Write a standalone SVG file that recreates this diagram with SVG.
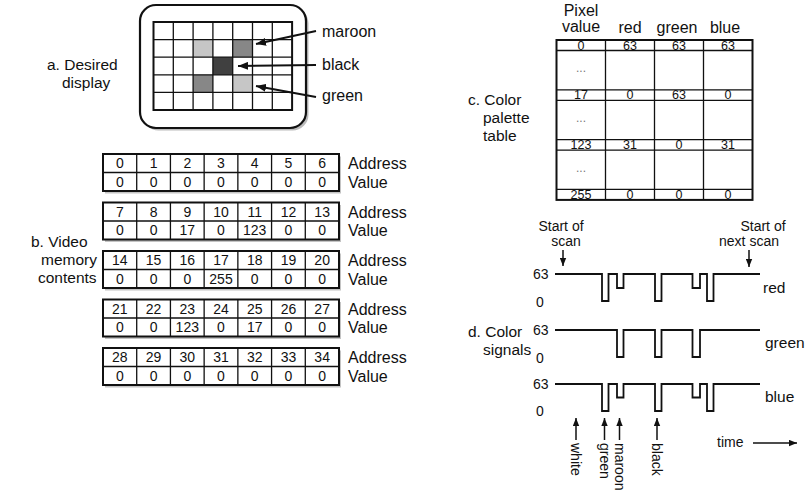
<svg xmlns="http://www.w3.org/2000/svg" xmlns:xlink="http://www.w3.org/1999/xlink" width="805" height="491" viewBox="0 0 805 491">
  <style>
    text { font-family: "Liberation Sans", Arial, sans-serif; fill: #111; }
    .lbl { font-size: 16px; }
    .side { font-size: 15.5px; }
    .sm { font-size: 14px; }
    .cell { font-size: 14px; text-anchor: middle; }
    .pcell { font-size: 12.5px; text-anchor: middle; }
    .mid { text-anchor: middle; }
    .dots { font-size: 12px; text-anchor: middle; fill: #777; }
    .box { fill: #fff; stroke: #111; stroke-width: 2; }
    .grid { fill: none; stroke: #111; stroke-width: 1.3; }
    .shadow { fill: #c4c4c4; }
    .sig { fill: none; stroke: #111; stroke-width: 1.8; }
    .arr { stroke: #111; stroke-width: 2; fill: none; }
    .arr-thin { stroke: #111; stroke-width: 1.5; fill: none; }
  </style>
  <defs>
    <marker id="ah" viewBox="0 0 10 8" refX="10" refY="4" markerWidth="10" markerHeight="8" markerUnits="userSpaceOnUse" orient="auto">
      <path d="M0,0 L10,4 L0,8 z" fill="#111"/>
    </marker>
    <marker id="ah-s" viewBox="0 0 10 8" refX="10" refY="4" markerWidth="8" markerHeight="7" markerUnits="userSpaceOnUse" orient="auto">
      <path d="M0,0 L10,4 L0,8 z" fill="#111"/>
    </marker>
    <!-- one 2x7 memory block: shadow, frame and cell lines -->
    <g id="memgrid">
      <rect class="shadow" x="105" y="2.5" width="236" height="37"/>
      <rect class="box" x="103" y="0" width="236" height="37"/>
      <path class="grid" d="M103,18.5 H339 M136.71,0 V37 M170.43,0 V37 M204.14,0 V37 M237.86,0 V37 M271.57,0 V37 M305.29,0 V37"/>
    </g>
  </defs>

  <!-- a. desired display -->
  <g id="display">
    <text class="side" x="47" y="70">a. Desired</text>
    <text class="side" x="62" y="88">display</text>
    <rect x="142.5" y="7.5" width="166" height="123" rx="16" fill="#bbb"/>
    <rect x="140" y="5" width="166" height="123" rx="16" fill="#fff" stroke="#111" stroke-width="2.2"/>
    <rect x="193.1" y="39.6" width="19.8" height="17.6" fill="#c6c6c6"/>
    <rect x="232.7" y="39.6" width="19.8" height="17.6" fill="#878787"/>
    <rect x="212.9" y="57.2" width="19.8" height="17.6" fill="#404040"/>
    <rect x="193.1" y="74.8" width="19.8" height="17.6" fill="#878787"/>
    <rect x="232.7" y="74.8" width="19.8" height="17.6" fill="#c6c6c6"/>
    <rect x="153.5" y="22" width="138.6" height="88" fill="none" stroke="#111" stroke-width="2"/>
    <path class="grid" d="M173.3,22 V110 M193.1,22 V110 M212.9,22 V110 M232.7,22 V110 M252.5,22 V110 M272.3,22 V110 M153.5,39.6 H292.1 M153.5,57.2 H292.1 M153.5,74.8 H292.1 M153.5,92.4 H292.1"/>
  </g>
  <g id="display-labels">
    <text class="lbl" x="322" y="37">maroon</text>
    <text class="lbl" x="322" y="70">black</text>
    <text class="lbl" x="322" y="101">green</text>
  </g>

  <!-- b. video memory contents -->
  <g id="memory">
    <text class="side" x="31" y="247">b. Video</text>
    <text class="side" x="41" y="265">memory</text>
    <text class="side" x="38" y="283">contents</text>
  </g>
  <g id="mem-0" transform="translate(0,154)">
    <use xlink:href="#memgrid"/>
    <g class="cell">
      <text x="119.86" y="14.3">0</text><text x="153.57" y="14.3">1</text><text x="187.29" y="14.3">2</text><text x="221" y="14.3">3</text><text x="254.71" y="14.3">4</text><text x="288.43" y="14.3">5</text><text x="322.14" y="14.3">6</text>
      <text x="119.86" y="32.8">0</text><text x="153.57" y="32.8">0</text><text x="187.29" y="32.8">0</text><text x="221" y="32.8">0</text><text x="254.71" y="32.8">0</text><text x="288.43" y="32.8">0</text><text x="322.14" y="32.8">0</text>
    </g>
    <text class="lbl" x="348" y="15">Address</text>
    <text class="lbl" x="348" y="33.5">Value</text>
  </g>
  <g id="mem-1" transform="translate(0,202.5)">
    <use xlink:href="#memgrid"/>
    <g class="cell">
      <text x="119.86" y="14.3">7</text><text x="153.57" y="14.3">8</text><text x="187.29" y="14.3">9</text><text x="221" y="14.3">10</text><text x="254.71" y="14.3">11</text><text x="288.43" y="14.3">12</text><text x="322.14" y="14.3">13</text>
      <text x="119.86" y="32.8">0</text><text x="153.57" y="32.8">0</text><text x="187.29" y="32.8">17</text><text x="221" y="32.8">0</text><text x="254.71" y="32.8">123</text><text x="288.43" y="32.8">0</text><text x="322.14" y="32.8">0</text>
    </g>
    <text class="lbl" x="348" y="15">Address</text>
    <text class="lbl" x="348" y="33.5">Value</text>
  </g>
  <g id="mem-2" transform="translate(0,251)">
    <use xlink:href="#memgrid"/>
    <g class="cell">
      <text x="119.86" y="14.3">14</text><text x="153.57" y="14.3">15</text><text x="187.29" y="14.3">16</text><text x="221" y="14.3">17</text><text x="254.71" y="14.3">18</text><text x="288.43" y="14.3">19</text><text x="322.14" y="14.3">20</text>
      <text x="119.86" y="32.8">0</text><text x="153.57" y="32.8">0</text><text x="187.29" y="32.8">0</text><text x="221" y="32.8">255</text><text x="254.71" y="32.8">0</text><text x="288.43" y="32.8">0</text><text x="322.14" y="32.8">0</text>
    </g>
    <text class="lbl" x="348" y="15">Address</text>
    <text class="lbl" x="348" y="33.5">Value</text>
  </g>
  <g id="mem-3" transform="translate(0,299.5)">
    <use xlink:href="#memgrid"/>
    <g class="cell">
      <text x="119.86" y="14.3">21</text><text x="153.57" y="14.3">22</text><text x="187.29" y="14.3">23</text><text x="221" y="14.3">24</text><text x="254.71" y="14.3">25</text><text x="288.43" y="14.3">26</text><text x="322.14" y="14.3">27</text>
      <text x="119.86" y="32.8">0</text><text x="153.57" y="32.8">0</text><text x="187.29" y="32.8">123</text><text x="221" y="32.8">0</text><text x="254.71" y="32.8">17</text><text x="288.43" y="32.8">0</text><text x="322.14" y="32.8">0</text>
    </g>
    <text class="lbl" x="348" y="15">Address</text>
    <text class="lbl" x="348" y="33.5">Value</text>
  </g>
  <g id="mem-4" transform="translate(0,348)">
    <use xlink:href="#memgrid"/>
    <g class="cell">
      <text x="119.86" y="14.3">28</text><text x="153.57" y="14.3">29</text><text x="187.29" y="14.3">30</text><text x="221" y="14.3">31</text><text x="254.71" y="14.3">32</text><text x="288.43" y="14.3">33</text><text x="322.14" y="14.3">34</text>
      <text x="119.86" y="32.8">0</text><text x="153.57" y="32.8">0</text><text x="187.29" y="32.8">0</text><text x="221" y="32.8">0</text><text x="254.71" y="32.8">0</text><text x="288.43" y="32.8">0</text><text x="322.14" y="32.8">0</text>
    </g>
    <text class="lbl" x="348" y="15">Address</text>
    <text class="lbl" x="348" y="33.5">Value</text>
  </g>

  <!-- c. colour palette table -->
  <g id="palette">
    <text class="side" x="468" y="105">c. Color</text>
    <text class="side" x="483" y="123">palette</text>
    <text class="side" x="483" y="141">table</text>
    <g class="lbl mid">
      <text x="581" y="16">Pixel</text>
      <text x="581" y="32">value</text>
      <text x="630" y="33">red</text>
      <text x="677" y="33">green</text>
      <text x="725" y="33">blue</text>
    </g>
    <rect class="box" x="556.5" y="40" width="196" height="159.9"/>
    <path class="grid" d="M605.5,40 V199.9 M654.5,40 V199.9 M703.5,40 V199.9 M556.5,50.5 H752.5 M556.5,89.8 H752.5 M556.5,100.3 H752.5 M556.5,139.6 H752.5 M556.5,150.1 H752.5 M556.5,189.4 H752.5"/>
    <g class="pcell">
      <text x="581" y="49.6">0</text><text x="630" y="49.6">63</text><text x="679" y="49.6">63</text><text x="728" y="49.6">63</text>
      <text x="581" y="99.4">17</text><text x="630" y="99.4">0</text><text x="679" y="99.4">63</text><text x="728" y="99.4">0</text>
      <text x="581" y="149.2">123</text><text x="630" y="149.2">31</text><text x="679" y="149.2">0</text><text x="728" y="149.2">31</text>
      <text x="581" y="199">255</text><text x="630" y="199">0</text><text x="679" y="199">0</text><text x="728" y="199">0</text>
    </g>
    <text class="dots" x="581" y="72">...</text>
    <text class="dots" x="581" y="122">...</text>
    <text class="dots" x="581" y="172">...</text>
  </g>

  <!-- d. colour signals -->
  <g id="signals">
    <text class="side" x="468" y="337">d. Color</text>
    <text class="side" x="483" y="355">signals</text>
    <g class="sm">
      <text x="533" y="279">63</text><text x="536" y="307">0</text>
      <text x="533" y="335">63</text><text x="536" y="363">0</text>
      <text x="533" y="389">63</text><text x="536" y="416">0</text>
    </g>
    <path id="sig-red" class="sig" d="M555,274 H602 V301 H608.5 V274 H617 V288 H623.5 V274 H655 V301 H661.5 V274 H692.5 V288 H700 V274 H707 V301 H713.5 V274 H760"/>
    <path id="sig-green" class="sig" d="M555,330 H617 V357 H623.5 V330 H655 V357 H661.5 V330 H692.5 V357 H700 V330 H760"/>
    <path id="sig-blue" class="sig" d="M555,384 H602 V411 H608.5 V384 H617 V397.5 H623.5 V384 H655 V411 H661.5 V384 H692.5 V397.5 H700 V384 H707 V411 H713.5 V384 H760"/>
    <text class="side" x="763" y="293">red</text>
    <text class="side" x="765" y="348">green</text>
    <text class="side" x="765" y="402">blue</text>
    <g class="sm mid">
      <text x="561" y="231">Start of</text>
      <text x="566" y="246">scan</text>
      <text x="763" y="231">Start of</text>
      <text x="749" y="246">next scan</text>
    </g>
    <g class="sm">
      <text transform="translate(571,443) rotate(90)">white</text>
      <text transform="translate(599.5,443) rotate(90)">green</text>
      <text transform="translate(614.5,443) rotate(90)">maroon</text>
      <text transform="translate(652,443) rotate(90)">black</text>
      <text x="717" y="447">time</text>
    </g>
  </g>

  <!-- connectors -->
  <g id="connectors">
    <line class="arr" x1="316" y1="31" x2="256" y2="44" marker-end="url(#ah)"/>
    <line class="arr" x1="316" y1="65" x2="238" y2="66" marker-end="url(#ah)"/>
    <line class="arr" x1="316" y1="97" x2="256" y2="86" marker-end="url(#ah)"/>
    <line class="arr-thin" x1="563" y1="250" x2="563" y2="266" marker-end="url(#ah-s)"/>
    <line class="arr-thin" x1="749" y1="250" x2="749" y2="267" marker-end="url(#ah-s)"/>
    <line class="arr-thin" x1="576" y1="440" x2="576" y2="418" marker-end="url(#ah-s)"/>
    <line class="arr-thin" x1="604.5" y1="440" x2="604.5" y2="418" marker-end="url(#ah-s)"/>
    <line class="arr-thin" x1="619.5" y1="440" x2="619.5" y2="418" marker-end="url(#ah-s)"/>
    <line class="arr-thin" x1="657" y1="440" x2="657" y2="418" marker-end="url(#ah-s)"/>
    <line class="arr-thin" x1="753" y1="443" x2="797" y2="443" marker-end="url(#ah-s)"/>
  </g>
</svg>
